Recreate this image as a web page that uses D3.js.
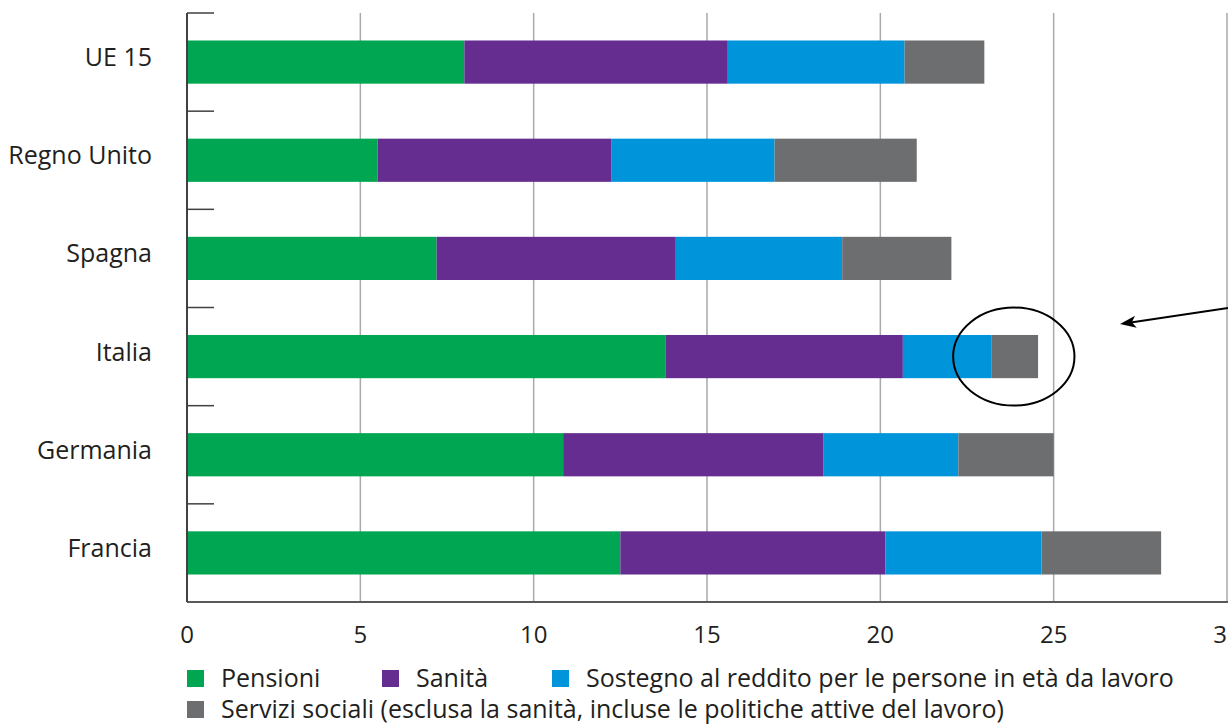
<!DOCTYPE html>
<html>
<head>
<meta charset="utf-8">
<script src="https://cdn.jsdelivr.net/npm/d3@7"></script>
<style>
  html, body { margin: 0; padding: 0; background: #ffffff; }
  svg { display: block; }
  text { font-family: "Open Sans", "DejaVu Sans", sans-serif; fill: #231f20; }
</style>
</head>
<body>
<svg id="chart" width="1228" height="725"></svg>
<script>
// Spesa sociale per funzione (% del PIL)
const categories = ["UE 15", "Regno Unito", "Spagna", "Italia", "Germania", "Francia"];
const seriesNames = [
  "Pensioni",
  "Sanità",
  "Sostegno al reddito per le persone in età da lavoro",
  "Servizi sociali (esclusa la sanità, incluse le politiche attive del lavoro)"
];
const pensioni = [8.0, 5.5, 7.2, 13.8, 10.85, 12.5];
const sanita   = [7.6, 6.75, 6.9, 6.85, 7.5, 7.65];
const sostegno = [5.1, 4.7, 4.8, 2.55, 3.9, 4.5];
const servizi  = [2.3, 4.1, 3.15, 1.35, 2.75, 3.45];
const xTicks = [0, 5, 10, 15, 20, 25, 30];
const colors = ["#00a651", "#662d91", "#0095da", "#6d6e70"];

// Highlight around the Italian social-services segment
const highlightCategory = "Italia";
const highlightValue = 23.85;

const svg = d3.select("#chart");
const margin = { top: 13, plotBottom: 602 };

const x = d3.scaleLinear().domain([0, 30]).range([187, 1227]);
const y = d3.scaleBand().domain(categories).range([margin.top, margin.plotBottom]).paddingInner(0.56).paddingOuter(0.28);

// Stack the four components
const rows = categories.map((c, i) => ({
  cat: c, s0: pensioni[i], s1: sanita[i], s2: sostegno[i], s3: servizi[i]
}));
const stack = d3.stack().keys(["s0", "s1", "s2", "s3"]);
const layers = stack(rows);

// Vertical gridlines
svg.append("g")
  .selectAll("line")
  .data(xTicks.filter(d => d > 0))
  .join("line")
  .attr("x1", d => x(d)).attr("x2", d => x(d))
  .attr("y1", margin.top).attr("y2", margin.plotBottom)
  .attr("stroke", "#a7a9ac").attr("stroke-width", 1.5);

// Bars
svg.append("g")
  .selectAll("g")
  .data(layers)
  .join("g")
  .attr("fill", (d, i) => colors[i])
  .selectAll("rect")
  .data(d => d)
  .join("rect")
  .attr("x", d => x(d[0]))
  .attr("width", d => x(d[1]) - x(d[0]))
  .attr("y", d => y(d.data.cat))
  .attr("height", y.bandwidth());

// Bottom axis line
svg.append("line")
  .attr("x1", x(0)).attr("x2", 1228)
  .attr("y1", margin.plotBottom).attr("y2", margin.plotBottom)
  .attr("stroke", "#58595b").attr("stroke-width", 2);

// Left axis with category separators
const boundaries = categories.map((c, i) => margin.top + i * (margin.plotBottom - margin.top) / categories.length);
svg.append("line")
  .attr("x1", x(0)).attr("x2", x(0))
  .attr("y1", margin.top).attr("y2", margin.plotBottom)
  .attr("stroke", "#414042").attr("stroke-width", 2);
svg.append("g")
  .selectAll("line")
  .data(boundaries)
  .join("line")
  .attr("x1", x(0)).attr("x2", x(0) + 27)
  .attr("y1", d => d).attr("y2", d => d)
  .attr("stroke", "#414042").attr("stroke-width", 1.5);

// Category labels
svg.append("g")
  .selectAll("text")
  .data(categories)
  .join("text")
  .attr("x", 152)
  .attr("y", d => y(d) + y.bandwidth() / 2 + 4)
  .attr("text-anchor", "end")
  .attr("font-size", 25)
  .text(d => d);

// X tick labels
svg.append("g")
  .selectAll("text")
  .data(xTicks)
  .join("text")
  .attr("x", d => x(d))
  .attr("y", 643)
  .attr("text-anchor", "middle")
  .attr("font-size", 24)
  .text(d => d);

// Legend
const legendItems = [
  { name: seriesNames[0], color: colors[0], x: 187, y: 687 },
  { name: seriesNames[1], color: colors[1], x: 382, y: 687 },
  { name: seriesNames[2], color: colors[2], x: 552, y: 687 },
  { name: seriesNames[3], color: colors[3], x: 187, y: 718 }
];
const lg = svg.append("g").selectAll("g").data(legendItems).join("g")
  .attr("transform", d => `translate(${d.x},${d.y})`);
lg.append("rect").attr("x", 0).attr("y", -17).attr("width", 17).attr("height", 17).attr("fill", d => d.color);
lg.append("text").attr("x", 34).attr("y", 0).attr("font-size", 25).text(d => d.name);

// Highlight ellipse and pointer arrow
const cx = x(highlightValue);
const cy = y(highlightCategory) + y.bandwidth() / 2;
svg.append("ellipse")
  .attr("cx", cx).attr("cy", cy)
  .attr("rx", x(highlightValue + 1.75) - cx).attr("ry", 49)
  .attr("fill", "none").attr("stroke", "#000").attr("stroke-width", 2);

svg.append("defs").append("marker")
  .attr("id", "arrowhead")
  .attr("viewBox", "0 0 16 12")
  .attr("refX", 12).attr("refY", 6)
  .attr("markerWidth", 16).attr("markerHeight", 12)
  .attr("markerUnits", "userSpaceOnUse")
  .attr("orient", "auto")
  .append("path").attr("d", "M0,0 L16,6 L0,12 L4,6 Z").attr("fill", "#000");

svg.append("line")
  .attr("x1", 1228).attr("y1", 308)
  .attr("x2", 1124).attr("y2", 323.5)
  .attr("stroke", "#000").attr("stroke-width", 2.2)
  .attr("marker-end", "url(#arrowhead)");
</script>
</body>
</html>
